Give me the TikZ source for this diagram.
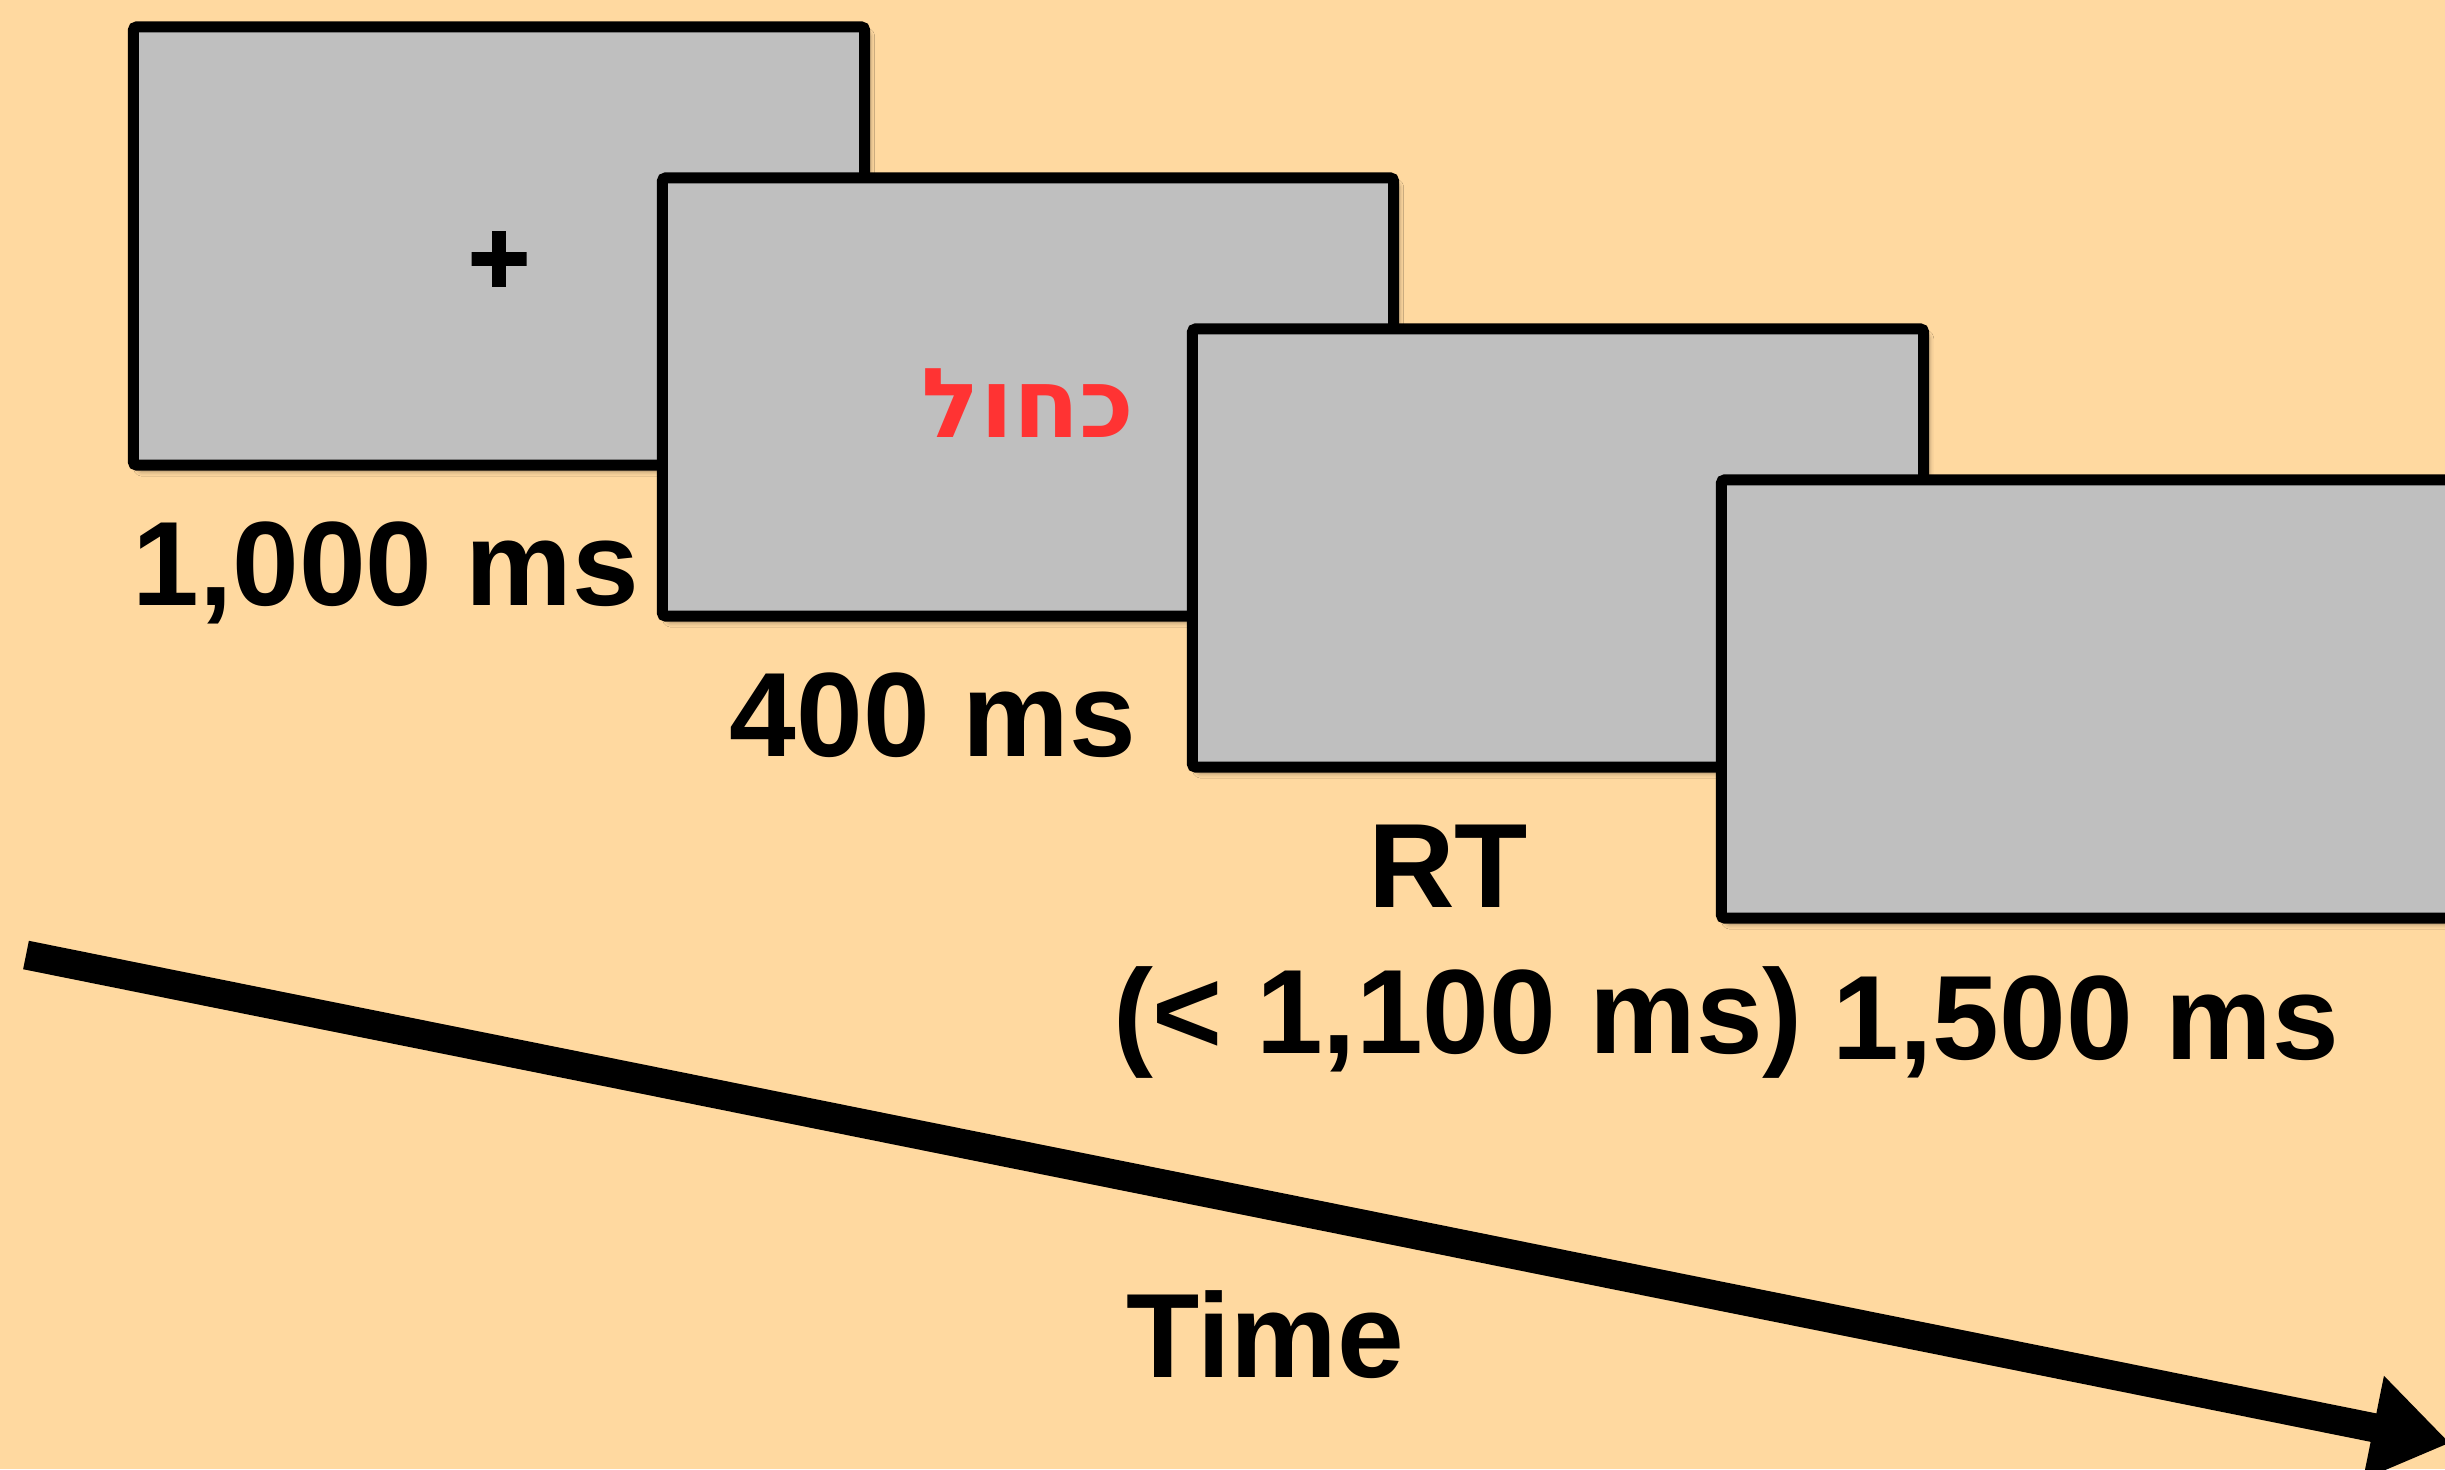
\documentclass[tikz,border=0pt]{standalone}
\usepackage{fontspec}
\setmainfont{Liberation Sans}
\newfontfamily\hebfont[Script=Hebrew]{DejaVu Sans}
\newfontfamily\plusfont[FakeBold=2]{Liberation Sans Bold}
\TeXXeTstate=1
\usetikzlibrary{arrows.meta,shadows.blur}
\definecolor{bgtan}{RGB}{255,217,160}
\definecolor{screengray}{RGB}{191,191,191}
\definecolor{wordred}{RGB}{255,51,51}
\tikzset{
  screen/.style={draw=black, line width=0.11cm, fill=screengray, rounded corners=1pt,
    minimum width=7.31cm, minimum height=4.38cm, inner sep=0pt,
    blur shadow={shadow xshift=0.05cm, shadow yshift=-0.06cm, shadow blur radius=0.05cm, shadow opacity=40}},
  lbl/.style={anchor=base, inner sep=0pt, font=\fontsize{34.1pt}{40pt}\selectfont\bfseries},
  timearrow/.style={line width=0.29cm, -{Triangle[length=0.78cm, width=1.0cm]}}
}
\begin{document}
\begin{tikzpicture}[x=0.01cm, y=-0.01cm]
\fill[bgtan] (0,0) rectangle (2445,1469);
\useasboundingbox (0,0) rectangle (2445,1469);
\clip (0,0) rectangle (2445,1469);
% screens
\node[screen] (s1) at (499,246) {};
\node[anchor=base, inner sep=0pt, font=\fontsize{30pt}{36pt}\selectfont\plusfont] (plus) at (499,294) {+};
\node[screen] (s2) at (1028,397) {};
\node[anchor=base, inner sep=0pt, text=wordred, font=\fontsize{27.5pt}{33pt}\selectfont\bfseries] (word) at (1028,437) {\hebfont\beginR כחול\endR};
\node[screen] (s3) at (1558,548) {};
\node[screen] (s4) at (2087,699) {};
% labels
\node[lbl] (t1) at (386,605) {1,000 ms};
\node[lbl] (t2) at (933,756) {400 ms};
\node[lbl] (t3) at (1448,907) {RT};
\node[lbl] (t3b) at (1458,1053) {(< 1,100 ms)};
\node[lbl] (t4) at (2086,1059) {1,500 ms};
\node[lbl] (time) at (1265,1377) {Time};
% time arrow
\coordinate (tstart) at (26,955);
\coordinate (tend) at (2450,1443);
\draw[timearrow] (tstart) -- (tend);
\end{tikzpicture}
\end{document}
